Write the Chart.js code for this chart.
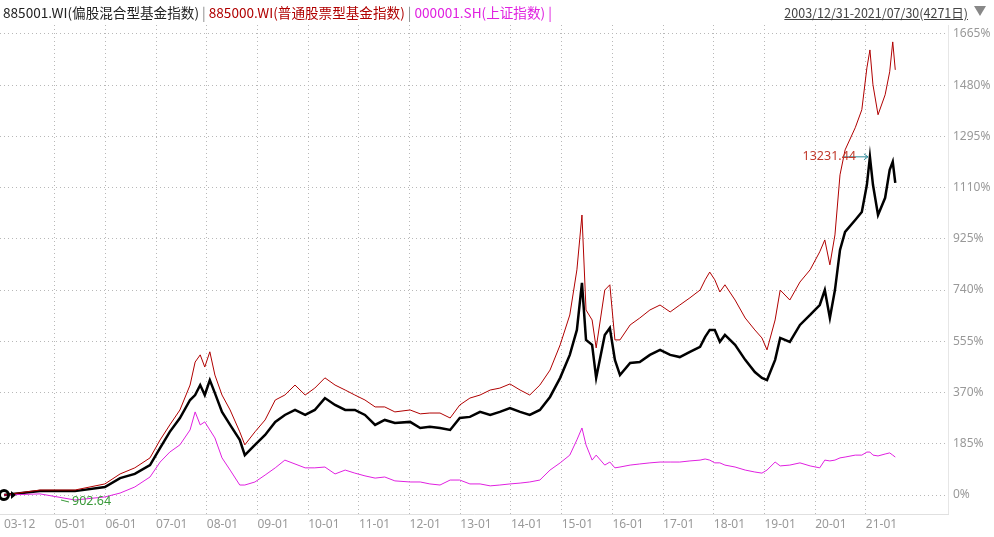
<!DOCTYPE html>
<html><head><meta charset="utf-8">
<script src="https://cdn.jsdelivr.net/npm/chart.js@4/dist/chart.umd.min.js"></script>
<style>
html,body{margin:0;padding:0;background:#fff;width:994px;height:537px;overflow:hidden;font-family:"Noto Sans CJK SC","Noto Sans",sans-serif}
#hdr{position:absolute;left:3px;top:2px;font-size:13.6px;white-space:nowrap}
#rng{position:absolute;right:26px;top:3px;font-size:12.5px;color:#444;text-decoration:underline}
#tri{position:absolute;right:8px;top:6px;width:0;height:0;border-left:6px solid transparent;border-right:6px solid transparent;border-top:10px solid #888}
#wrap{position:absolute;left:0;top:0;width:994px;height:537px}
</style></head><body>
<div id="wrap"><canvas id="c" width="994" height="537"></canvas></div>
<div id="hdr"><span style="color:#222">885001.WI(偏股混合型基金指数)</span><span style="color:#888"> | </span><span style="color:#b00000">885000.WI(普通股票型基金指数)</span><span style="color:#888"> | </span><span style="color:#e020e0">000001.SH(上证指数) |</span></div>
<div id="rng">2003/12/31-2021/07/30(4271日)</div><div id="tri"></div>
<script>
const dates=[2004.00,2004.71,2005.40,2005.99,2006.29,2006.58,2006.88,2007.08,2007.27,2007.47,2007.67,2007.77,2007.87,2007.96,2008.06,2008.16,2008.30,2008.46,2008.65,2008.75,2008.95,2009.15,2009.35,2009.54,2009.74,2009.94,2010.13,2010.33,2010.53,2010.73,2010.92,2011.12,2011.32,2011.51,2011.71,2012.01,2012.21,2012.40,2012.60,2012.80,2012.99,2013.19,2013.39,2013.59,2013.78,2013.98,2014.18,2014.37,2014.57,2014.77,2014.97,2015.16,2015.30,2015.40,2015.48,2015.60,2015.68,2015.85,2015.95,2016.05,2016.15,2016.35,2016.54,2016.74,2016.94,2017.14,2017.33,2017.53,2017.73,2017.83,2017.92,2018.02,2018.12,2018.22,2018.42,2018.62,2018.81,2018.95,2019.05,2019.21,2019.31,2019.50,2019.70,2019.90,2020.09,2020.19,2020.29,2020.39,2020.49,2020.59,2020.79,2020.92,2021.02,2021.08,2021.14,2021.24,2021.38,2021.47,2021.53,2021.58];
const mixedFund=[0,14,14,29,61,76,108,170,228,278,343,361,397,361,415,368,300,253,199,144,181,217,264,289,307,289,307,350,325,307,307,289,253,271,260,264,242,246,242,235,278,282,300,289,300,314,300,289,307,354,423,506,596,766,560,542,423,578,603,488,433,477,480,506,524,506,498,517,535,571,596,596,553,578,542,488,444,423,415,488,567,553,614,650,686,740,639,740,885,950,993,1022,1120,1221,1120,1011,1073,1174,1203,1127];
const stockFund=[0,18,18,40,76,98,134,199,253,307,397,480,506,462,517,433,361,307,228,181,228,271,343,361,397,361,386,423,397,379,361,343,318,318,300,307,293,296,296,278,325,350,361,379,386,401,379,361,397,451,542,650,813,1011,668,632,531,740,759,560,560,614,639,668,686,661,686,712,740,777,805,777,733,759,704,639,596,567,524,632,740,704,769,813,878,921,831,939,1156,1246,1326,1391,1542,1607,1481,1373,1445,1528,1636,1535];
const shIndex=[0,4,-18,-7,7,29,65,119,155,181,235,300,253,264,235,206,134,90,36,36,47,72,98,126,112,98,98,101,76,90,79,69,61,65,51,47,47,40,36,54,54,40,40,33,36,40,43,47,54,90,116,144,199,242,181,126,144,108,119,98,101,108,112,116,119,119,119,123,126,130,126,116,116,108,101,90,83,79,90,119,105,108,116,105,98,126,123,126,134,137,144,144,155,155,144,141,148,152,144,137];
const yTicks=[0,185,370,555,740,925,1110,1295,1480,1665];
const xLabels={2004:'03-12',2005:'05-01',2006:'06-01',2007:'07-01',2008:'08-01',2009:'09-01',2010:'10-01',2011:'11-01',2012:'12-01',2013:'13-01',2014:'14-01',2015:'15-01',2016:'16-01',2017:'17-01',2018:'18-01',2019:'19-01',2020:'20-01',2021:'21-01'};
const mk=a=>a.map((v,i)=>({x:dates[i],y:v}));
const ann={id:'ann',afterDatasetsDraw(ch){
  const c=ch.ctx,xs=ch.scales.x,ys=ch.scales.y;
  let mi=mixedFund.indexOf(Math.max(...mixedFund));
  let px=xs.getPixelForValue(dates[mi]),py=ys.getPixelForValue(mixedFund[mi]);
  c.save();c.strokeStyle='#2a8a9a';c.lineWidth=1;c.beginPath();c.moveTo(px-26,py);c.lineTo(px-2,py);c.stroke();
  c.beginPath();c.moveTo(px-2,py);c.lineTo(px-6,py-3);c.moveTo(px-2,py);c.lineTo(px-6,py+3);c.stroke();
  c.font='12.5px "Noto Sans",sans-serif';c.fillStyle='#c0392b';c.textAlign='right';c.textBaseline='middle';c.fillText('13231.44',px-14,py);
  let ni=shIndex.indexOf(Math.min(...shIndex));
  let qx=xs.getPixelForValue(dates[ni]),qy=ys.getPixelForValue(shIndex[ni]);
  c.strokeStyle='#3a9a3a';c.beginPath();c.moveTo(qx-14,qy);c.lineTo(qx-6,qy+2);c.stroke();
  c.fillStyle='#3a9a3a';c.textAlign='left';c.fillText('902.64',qx-3,qy+1);
  let sx=xs.getPixelForValue(dates[0]),sy=ys.getPixelForValue(0);
  c.strokeStyle='#000';c.lineWidth=3;c.beginPath();c.arc(sx,sy,4.5,0,Math.PI*2);c.stroke();
  c.fillStyle='#000';c.beginPath();c.moveTo(sx+7,sy-4);c.lineTo(sx+12,sy);c.lineTo(sx+7,sy+4);c.fill();
  c.strokeStyle='#e6e6e6';c.lineWidth=1;c.beginPath();c.moveTo(ch.chartArea.right+0.5,ch.chartArea.top);c.lineTo(ch.chartArea.right+0.5,ch.chartArea.bottom);c.stroke();
  c.restore();}};
new Chart(document.getElementById('c'),{type:'line',
 data:{datasets:[
  {label:'885000.WI',data:mk(stockFund),borderColor:'#b00000',borderWidth:1,pointRadius:0,tension:0},
  {label:'000001.SH',data:mk(shIndex),borderColor:'#e020e0',borderWidth:1,pointRadius:0,tension:0},
  {label:'885001.WI',data:mk(mixedFund),borderColor:'#000',borderWidth:2.5,pointRadius:0,tension:0}]},
 options:{responsive:false,animation:false,layout:{padding:{top:25,left:0,right:0,bottom:0}},
  plugins:{legend:{display:false},tooltip:{enabled:false}},
  scales:{
   x:{type:'linear',min:2003.921,max:2022.62,
     afterBuildTicks:s=>{s.ticks=Object.keys(xLabels).map(k=>({value:+k}));},
     afterFit:s=>{s.height=23;},
     ticks:{align:'start',padding:3,maxRotation:0,autoSkip:false,color:'#999',font:{size:12,family:'"Noto Sans",sans-serif'},callback:v=>xLabels[v]||''},
     grid:{color:v=>v.tick&&v.tick.value===2004?'rgba(0,0,0,0)':'#b8b8b8',drawTicks:false},border:{display:true,color:'#e0e0e0',dash:[1,3]}},
   y:{position:'right',min:-68.6,max:1697,
     afterBuildTicks:s=>{s.ticks=yTicks.map(v=>({value:v}));},
     afterFit:s=>{s.width=46;},
     ticks:{padding:5,color:'#999',font:{size:12,family:'"Noto Sans",sans-serif'},callback:v=>v+'%'},
     grid:{color:'#b8b8b8',drawTicks:false},border:{display:false,dash:[1,3]}}
  }},
 plugins:[ann]
});
</script>
</body></html>
